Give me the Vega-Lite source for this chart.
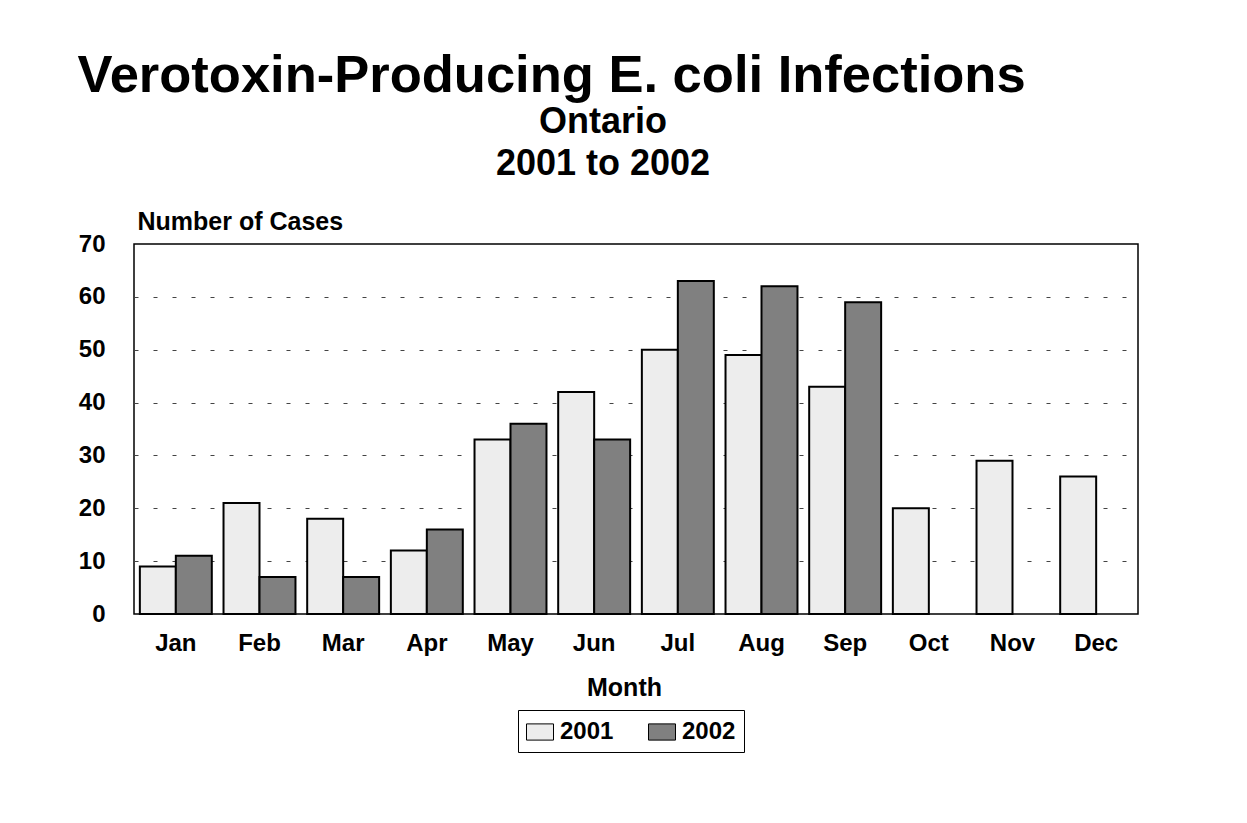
{
  "$schema": "https://vega.github.io/schema/vega-lite/v6.json",
  "background": "white",
  "padding": {"left": 77, "top": 49, "right": 10, "bottom": 10},
  "title": {
    "text": "Verotoxin-Producing E. coli Infections",
    "anchor": "start",
    "font": "Liberation Sans",
    "fontSize": 52.5,
    "fontWeight": "bold",
    "color": "black",
    "offset": 0
  },
  "vconcat": [
    {
      "width": 1004,
      "height": 370,
      "title": {
        "text": "Ontario",
        "subtitle": "2001 to 2002",
        "anchor": "middle",
        "dx": -33,
        "font": "Liberation Sans",
        "fontSize": 36,
        "fontWeight": "bold",
        "color": "black",
        "subtitleFont": "Liberation Sans",
        "subtitleFontSize": 36,
        "subtitleFontWeight": "bold",
        "subtitleColor": "black",
        "subtitlePadding": 6,
        "offset": 26
      },
      "data": {
        "values": [
          {"month": "Jan", "year": "2001", "cases": 9},
          {"month": "Jan", "year": "2002", "cases": 11},
          {"month": "Feb", "year": "2001", "cases": 21},
          {"month": "Feb", "year": "2002", "cases": 7},
          {"month": "Mar", "year": "2001", "cases": 18},
          {"month": "Mar", "year": "2002", "cases": 7},
          {"month": "Apr", "year": "2001", "cases": 12},
          {"month": "Apr", "year": "2002", "cases": 16},
          {"month": "May", "year": "2001", "cases": 33},
          {"month": "May", "year": "2002", "cases": 36},
          {"month": "Jun", "year": "2001", "cases": 42},
          {"month": "Jun", "year": "2002", "cases": 33},
          {"month": "Jul", "year": "2001", "cases": 50},
          {"month": "Jul", "year": "2002", "cases": 63},
          {"month": "Aug", "year": "2001", "cases": 49},
          {"month": "Aug", "year": "2002", "cases": 62},
          {"month": "Sep", "year": "2001", "cases": 43},
          {"month": "Sep", "year": "2002", "cases": 59},
          {"month": "Oct", "year": "2001", "cases": 20},
          {"month": "Nov", "year": "2001", "cases": 29},
          {"month": "Dec", "year": "2001", "cases": 26}
        ]
      },
      "mark": {"type": "bar", "stroke": "black", "strokeWidth": 2, "opacity": 1},
      "encoding": {
        "x": {
          "field": "month",
          "type": "nominal",
          "sort": ["Jan", "Feb", "Mar", "Apr", "May", "Jun", "Jul", "Aug", "Sep", "Oct", "Nov", "Dec"],
          "scale": {"paddingInner": 0.14, "paddingOuter": 0.07},
          "axis": {
            "title": "Month",
            "titleX": 490,
            "titleFontSize": 25,
            "titlePadding": 20,
            "labelAngle": 0,
            "labelFontSize": 24,
            "labelPadding": 17,
            "ticks": false,
            "domain": false
          }
        },
        "xOffset": {"field": "year", "type": "nominal"},
        "y": {
          "field": "cases",
          "type": "quantitative",
          "scale": {"domain": [0, 70], "nice": false},
          "axis": {
            "title": "Number of Cases",
            "titleAngle": 0,
            "titleAlign": "left",
            "titleBaseline": "alphabetic",
            "titleX": 3,
            "titleY": -15,
            "titleFontSize": 25,
            "values": [0, 10, 20, 30, 40, 50, 60, 70],
            "labelFontSize": 24,
            "labelPadding": 29,
            "ticks": false,
            "domain": false,
            "grid": true,
            "gridColor": {
              "condition": {"test": "datum.value === 0 || datum.value === 70", "value": "transparent"},
              "value": "#444444"
            },
            "gridDash": [4, 15],
            "gridWidth": 1.2
          }
        },
        "fill": {
          "field": "year",
          "type": "nominal",
          "scale": {"domain": ["2001", "2002"], "range": ["#ededed", "#808080"]},
          "legend": {
            "title": null,
            "orient": "none",
            "direction": "horizontal",
            "legendX": 384,
            "legendY": 466,
            "symbolType": "M-1,-0.6H1V0.6H-1Z",
            "symbolSize": 729,
            "symbolStrokeColor": "black",
            "symbolStrokeWidth": 1,
            "symbolOpacity": 1,
            "labelFontSize": 24,
            "labelOffset": 6,
            "columnPadding": 32,
            "padding": 8,
            "strokeColor": "black",
            "fillColor": "white"
          }
        }
      }
    }
  ],
  "config": {
    "view": {"stroke": "black", "strokeWidth": 1.5},
    "font": "Liberation Sans",
    "axis": {
      "labelFont": "Liberation Sans",
      "labelFontWeight": "bold",
      "labelColor": "black",
      "titleFont": "Liberation Sans",
      "titleFontWeight": "bold",
      "titleColor": "black"
    },
    "legend": {
      "labelFont": "Liberation Sans",
      "labelFontWeight": "bold",
      "labelColor": "black"
    }
  }
}
